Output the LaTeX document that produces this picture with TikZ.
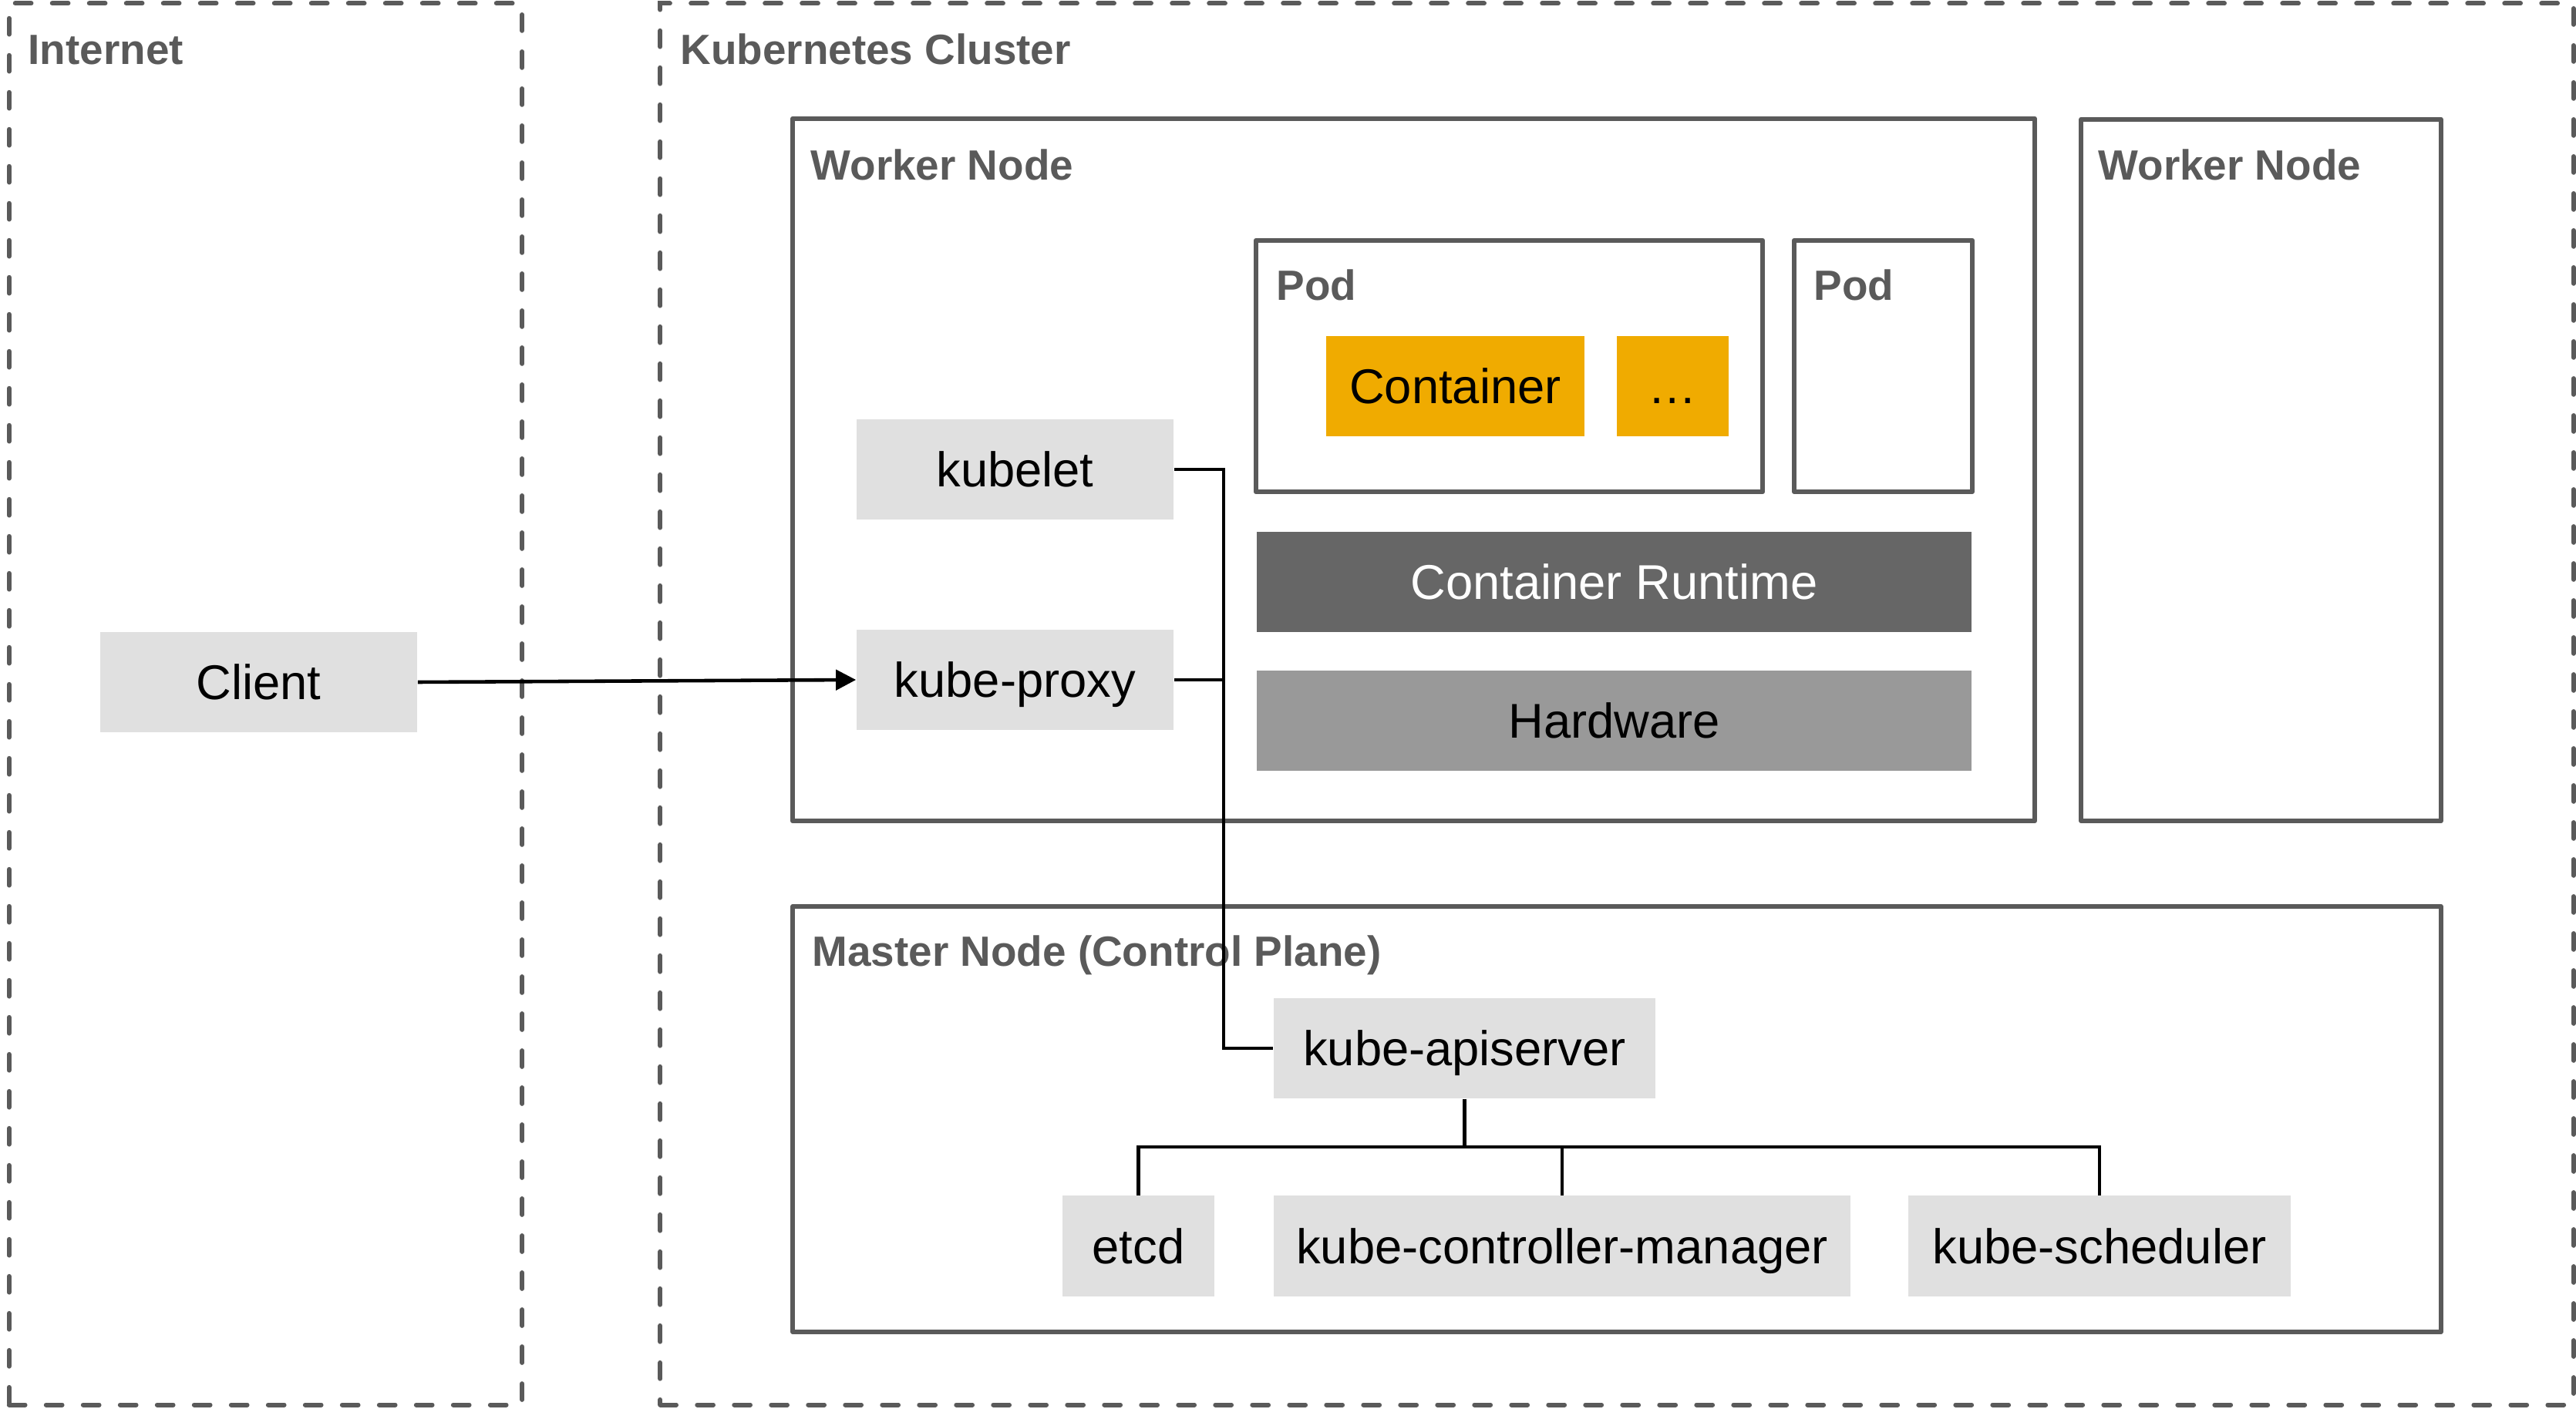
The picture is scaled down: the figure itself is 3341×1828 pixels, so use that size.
\documentclass[tikz,border=0pt]{standalone}
\usepackage{fontspec}
\setmainfont{Liberation Sans}
\usetikzlibrary{arrows.meta}
\definecolor{frame}{HTML}{5A5A5A}
\definecolor{compgray}{HTML}{E0E0E0}
\definecolor{contorange}{HTML}{F0AB00}
\definecolor{rtgray}{HTML}{666666}
\definecolor{hwgray}{HTML}{999999}
\tikzset{
  dashbox/.style={draw=frame, line width=1.7pt, dash pattern=on 5.9pt off 7.75pt, line cap=round},
  solidbox/.style={draw=frame, line width=1.7pt, line join=round},
  comp/.style={fill=compgray, inner sep=0pt, font=\fontsize{18}{21.6}\selectfont, minimum height=1.3cm, text height=12.9pt, text depth=0pt},
  lbl/.style={anchor=base west, inner sep=0pt, text=frame, font=\bfseries\fontsize{15.6}{18}\selectfont},
  conn/.style={draw=black, line width=1.3pt},
}
\begin{document}
\begin{tikzpicture}[x=0.01cm, y=-0.01cm]
\useasboundingbox (0,0) rectangle (3341,1828);
\fill[white] (0,0) rectangle (3341,1828);

% frames
\node[dashbox, minimum width=6.65cm, minimum height=18.17cm] (internet) at (344.5,913.5) {};
\node[dashbox, minimum width=24.80cm, minimum height=18.17cm] (cluster) at (2097,913.5) {};
\node[solidbox, minimum width=16.10cm, minimum height=9.11cm] (worker1) at (1833.5,609.5) {};
\node[solidbox, minimum width=4.66cm, minimum height=9.10cm] (worker2) at (2932.5,610) {};
\node[solidbox, minimum width=21.36cm, minimum height=5.52cm] (master) at (2097,1452) {};
\node[solidbox, minimum width=6.57cm, minimum height=3.26cm] (pod1) at (1957.5,475) {};
\node[solidbox, minimum width=2.31cm, minimum height=3.26cm] (pod2) at (2442.5,475) {};

% labels
\node[lbl] (lblinternet) at (36,84) {Internet};
\node[lbl] (lblcluster) at (882,84) {Kubernetes Cluster};
\node[lbl] (lblworker1) at (1051,234) {Worker Node};
\node[lbl] (lblworker2) at (2721,234) {Worker Node};
\node[lbl] (lblpod1) at (1655,390) {Pod};
\node[lbl] (lblpod2) at (2352,390) {Pod};
\node[lbl] (lblmaster) at (1053,1253) {Master Node (Control Plane)};

% components
\node[comp, fill=contorange, minimum width=3.35cm] (container) at (1887.5,501) {Container};
\node[comp, fill=contorange, minimum width=1.45cm] (dots) at (2169.5,501) {…};
\node[comp, fill=rtgray, text=white, minimum width=9.27cm] (runtime) at (2093.5,755) {Container Runtime};
\node[comp, fill=hwgray, minimum width=9.27cm] (hardware) at (2093.5,935) {Hardware};
\node[comp, minimum width=4.11cm] (kubelet) at (1316.5,609) {kubelet};
\node[comp, minimum width=4.11cm] (proxy) at (1316.5,882) {kube-proxy};
\node[comp, minimum width=4.11cm] (client) at (335.5,885) {Client};
\node[comp, minimum width=4.95cm] (apiserver) at (1899.5,1360) {kube-apiserver};
\node[comp, minimum width=1.97cm] (etcd) at (1476.5,1616.5) {etcd};
\node[comp, minimum width=7.48cm] (kcm) at (2026,1616.5) {kube-controller-manager};
\node[comp, minimum width=4.96cm] (ks) at (2723,1616.5) {kube-scheduler};

% connectors
\coordinate (trunk) at (1587,609);
\coordinate (bus) at (1899.5,1488);
\draw[conn] (kubelet.east) -- (trunk) |- (apiserver.west);
\draw[conn] (proxy.east) -- (proxy.east -| trunk);
\draw[conn] (apiserver.south) -- (bus);
\draw[conn] (etcd.north) |- (bus);
\draw[conn] (kcm.north) |- (bus);
\draw[conn] (ks.north) |- (bus);
\draw[conn, -{Triangle[length=0.26cm, width=0.26cm]}] (client.east) -- (proxy.west);
\end{tikzpicture}
\end{document}
